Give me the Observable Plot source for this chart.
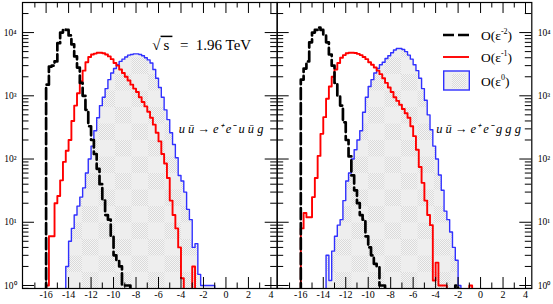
<!DOCTYPE html>
<html><head><meta charset="utf-8">
<script src="https://cdn.jsdelivr.net/npm/d3@7"></script>
<script src="https://cdn.jsdelivr.net/npm/@observablehq/plot@0.6"></script>
<style>
body{margin:0;background:#fff;}
#wrap{position:relative;width:553px;height:304px;overflow:hidden;font-family:"Liberation Serif",serif;}
#wrap svg{position:absolute;top:0;overflow:visible;}
.leg{position:absolute;left:443px;font-family:"Liberation Serif",serif;font-size:13.5px;color:#000;line-height:1;}
.leg .row{position:absolute;left:0;height:20px;width:110px;}
.leg svg{position:absolute!important;left:0;top:0;}
.leg span{position:absolute;left:38px;white-space:nowrap;}
.leg sup{font-size:8px;vertical-align:6px;}
</style></head><body><div id="wrap"></div>
<script>
// ---- data (histogram bins of width 0.25, first bin starts at -16.5) ----
const binStart = -16.5;
const binWidth = 0.25;

const leftBlack = [0,0,1500,2900,3000,3500,6800,10000,11300,11000,9000,6500,4200,2800,1600,1000,600,330,200,120,70,40,22,13,11,6,3,2.5,2,1,1,1,0,0,0,0,0,0,0,0,0,0,0,0,0,0,0,0,0,0,0,0,0,0,0,0,0,0,0,0,0,0,0,0,0,0];
const leftRed = [0,0,1,6,6,20,26,46,90,135,200,400,700,1100,1700,2500,3400,4100,4500,4650,4800,4800,4700,4500,4200,3800,3300,3000,2600,2300,2000,1750,1500,1300,1150,950,800,680,560,450,350,260,190,120,85,50,22,13,8,4,1.3,0,0,0,2,0,0,0,0,0,0,0,0,0,0,0];
const leftBlue = [0,0,0,0,0,0,0,0,0,2,5,8,13,18,25,35,60,100,160,280,450,700,950,1300,1800,2300,2700,3100,3500,3800,4100,4400,4500,4600,4600,4500,4300,4000,3700,3300,2600,1900,1350,950,600,420,260,170,105,55,45,30,16,11,4,4.6,1.5,1,1,1,1,1,0,0,0,0];

const rightBlack = [0,0,1800,2700,3500,7000,10000,11000,12000,11000,9000,7000,4500,3000,1600,1000,700,380,200,110,55,32,20,13,11,6,4,3,2.2,2,1,1,0,0,0,0,0,0,0,0,0,0,0,0,0,0,0,0,0,0,0,0,0,0,0,0,0,1,0,0,0,0,0,0,0,0];
const rightRed = [0,0,8,14,12,12,25,50,112,250,460,900,1400,2000,2600,3300,4000,4400,4700,4800,4800,4750,4600,4400,4100,3800,3400,3100,2800,2500,2200,1900,1600,1350,1150,950,830,720,620,530,450,330,230,140,75,42,22,13,9,1.2,2.3,1,1,1,0,0,0,0,0,0,0,0,1,0,0,0];
const rightBlue = [0,0,0,0,0,0,0,0,0,0,0,3,1.2,3.5,6,9,11,22,45,60,100,140,200,280,550,950,1400,1800,2300,2700,3100,3400,3900,4300,4800,5300,5600,5600,5400,5000,4400,3800,3100,2500,1900,1300,850,500,290,160,100,56,32,15,11,7,4,2.5,1,0,0,0,0,0,0,0];

const xMajorTicks = [-16,-14,-12,-10,-8,-6,-4,-2,0,2,4];
const xMinorTicks = [-17,-15,-13,-11,-9,-7,-5,-3,-1,1,3];
const yMajorTicks = [1,10,100,1000,10000];
const yTickLabels = ["10⁰","10¹","10²","10³","10⁴"];
const yMinorTicks = [0.9,2,3,4,5,6,7,8,9,20,30,40,50,60,70,80,90,200,300,400,500,600,700,800,900,2000,3000,4000,5000,6000,7000,8000,9000,20000];

const legendLabels = ["O(ε<sup>-2</sup>)","O(ε<sup>-1</sup>)","O(ε<sup>0</sup>)"];
const energyLabel = "√s = 1.96 TeV";
const processLeft = "u ū → e⁺ e⁻ u ū g";
const processRight = "u ū → e⁺ e⁻ g g g";

// ---- helpers ----
const FLOOR = 0.3; // below the axis: clipped
function steps(vals){
  const pts = vals.map((v,i)=>({x: binStart + i*binWidth, y: v>0 ? v : FLOOR}));
  pts.push({x: binStart + vals.length*binWidth, y: FLOOR});
  return pts;
}
const H = 304, MT = 2, MB = 16;
const colBlack = "#000", colRed = "#ff0000", colBlue = "#3030ff";

function panel(opt){
  const pw = opt.width - opt.marginLeft - opt.marginRight;
  const ph = H - MT - MB;
  const pid = "chk" + opt.id;
  const B = steps(opt.black), R = steps(opt.red), U = steps(opt.blue);
  const side = opt.labelsRight;
  const marks = [
    Plot.areaY(U, {x:"x", y1: FLOOR, y2:"y", curve:"step-after", fill:`url(#${pid})`, clip:true}),
    Plot.lineY(U, {x:"x", y:"y", curve:"step-after", stroke: colBlue, strokeWidth: 1.4, clip:true}),
    Plot.lineY(R, {x:"x", y:"y", curve:"step-after", stroke: colRed, strokeWidth: 1.9, clip:true}),
    Plot.lineY(B, {x:"x", y:"y", curve:"step-after", stroke: colBlack, strokeWidth: 2.7, strokeDasharray:"11,4", clip:true}),
    // x ticks bottom & top (inward)
    Plot.tickX(xMajorTicks, {x:d=>d, insetTop: ph-11, stroke:"#000"}),
    Plot.tickX(xMinorTicks, {x:d=>d, insetTop: ph-5.5, stroke:"#000"}),
    Plot.tickX(xMajorTicks, {x:d=>d, insetBottom: ph-11, stroke:"#000"}),
    Plot.tickX(xMinorTicks, {x:d=>d, insetBottom: ph-5.5, stroke:"#000"}),
    // y ticks left & right (inward)
    Plot.tickY(yMajorTicks, {y:d=>d, insetRight: pw-12, stroke:"#000"}),
    Plot.tickY(yMinorTicks, {y:d=>d, insetRight: pw-6.5, stroke:"#000"}),
    Plot.tickY(yMajorTicks, {y:d=>d, insetLeft: pw-12, stroke:"#000"}),
    Plot.tickY(yMinorTicks, {y:d=>d, insetLeft: pw-6.5, stroke:"#000"}),
    Plot.frame({stroke:"#000", strokeWidth:1.2}),
    Plot.text(xMajorTicks, {x:d=>d, text:d=>String(d), frameAnchor:"bottom", dy:9, fontSize:10, fill:"#000"}),
    Plot.text(yMajorTicks, {y:d=>d, text:(d,i)=>yTickLabels[i], frameAnchor: side?"right":"left",
      textAnchor: side?"start":"end", dx: side?6:-6, fontSize:9.5, fill:"#000"}),
    Plot.text([opt.process], {x: opt.procX, y: 300, text:d=>d, textAnchor:"start", fontSize:12.5, fontStyle:"italic", fill:"#000"})
  ];
  if (opt.energy) marks.push(Plot.text([opt.energy], {x:-6.55, y:6400, text:d=>d, textAnchor:"start", fontSize:15, fill:"#000"}));
  const svg = Plot.plot({
    width: opt.width, height: H, marginTop: MT, marginBottom: MB,
    marginLeft: opt.marginLeft, marginRight: opt.marginRight,
    x: {domain:[-18.1, 4.56], axis:null},
    y: {type:"log", domain:[0.896, 29900], axis:null},
    style: {background:"transparent", overflow:"visible", fontFamily:"Liberation Serif, serif"},
    marks
  });
  svg.style.left = opt.left + "px";
  // subtle checker pattern fill
  const defs = d3.select(svg).insert("defs", ":first-child");
  const dot = defs.append("pattern").attr("id", pid+"d").attr("patternUnits","userSpaceOnUse").attr("width",2).attr("height",2);
  dot.append("rect").attr("width",2).attr("height",2).attr("fill","#f5f5f5");
  dot.append("rect").attr("width",1).attr("height",1).attr("fill","#dadada");
  dot.append("rect").attr("x",1).attr("y",1).attr("width",1).attr("height",1).attr("fill","#dadada");
  const p = defs.append("pattern").attr("id", pid).attr("patternUnits","userSpaceOnUse")
    .attr("width",33).attr("height",33).attr("x", opt.patX).attr("y", 8);
  p.append("rect").attr("width",33).attr("height",33).attr("fill","#eeeeee");
  p.append("rect").attr("width",16.5).attr("height",16.5).attr("fill",`url(#${pid}d)`);
  p.append("rect").attr("x",16.5).attr("y",16.5).attr("width",16.5).attr("height",16.5).attr("fill",`url(#${pid}d)`);
  // radical overline
  d3.select(svg).selectAll("text").filter(function(){return this.textContent === energyLabel;}).each(function(){
    const t = d3.select(this); t.text("");
    t.append("tspan").text("√");
    t.append("tspan").style("text-decoration","overline").text("\u2009s\u2009");
    t.append("tspan").text("  =  1.96 TeV");
  });
  return svg;
}

const wrap = document.getElementById("wrap");
wrap.appendChild(panel({id:"L", black:leftBlack, red:leftRed, blue:leftBlue, width:277, marginLeft:22, marginRight:0.3, left:0,
  labelsRight:false, process:processLeft, procX:-4.2, energy:energyLabel, patX:16}));
wrap.appendChild(panel({id:"R", black:rightBlack, red:rightRed, blue:rightBlue, width:277, marginLeft:0.7, marginRight:21.7, left:276,
  labelsRight:true, process:processRight, procX:-3.95, patX:-7}));

// legend
const leg = document.createElement("div"); leg.className = "leg"; leg.style.top = "25px";
const rowsY = [0, 22, 45];
legendLabels.forEach((lab,i)=>{
  const row = document.createElement("div"); row.className="row"; row.style.top = rowsY[i]+"px";
  let sw;
  if (i===0) sw = `<svg width="28" height="20"><line x1="0" y1="10" x2="26" y2="10" stroke="#000" stroke-width="2.7" stroke-dasharray="11,4"/></svg>`;
  else if (i===1) sw = `<svg width="28" height="20"><line x1="0" y1="10" x2="26" y2="10" stroke="#ff0000" stroke-width="1.9"/></svg>`;
  else sw = `<svg width="28" height="22"><defs><pattern id="lgd" patternUnits="userSpaceOnUse" width="2" height="2"><rect width="2" height="2" fill="#f5f5f5"/><rect width="1" height="1" fill="#dadada"/><rect x="1" y="1" width="1" height="1" fill="#dadada"/></pattern></defs><rect x="0.7" y="1" width="25.6" height="19" fill="#eeeeee" stroke="#3030ff" stroke-width="1.4"/><rect x="9" y="4" width="14" height="14" fill="url(#lgd)"/></svg>`;
  row.innerHTML = sw + `<span style="top:${i===2?4:3}px">${lab}</span>`;
  leg.appendChild(row);
});
wrap.appendChild(leg);
</script>
</body></html>
